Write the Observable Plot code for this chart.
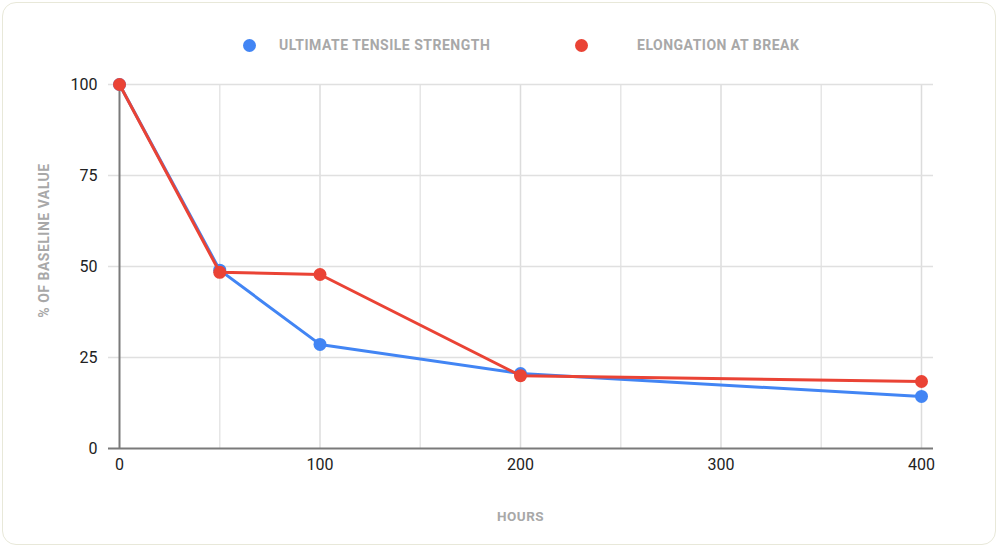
<!DOCTYPE html>
<html>
<head>
<meta charset="utf-8">
<script src="https://cdn.jsdelivr.net/npm/d3@7"></script>
<script src="https://cdn.jsdelivr.net/npm/@observablehq/plot@0.6"></script>
<style>
  html, body { margin: 0; padding: 0; background: #fff; }
  #wrap { position: relative; width: 999px; height: 548px; overflow: hidden; font-family: Roboto, sans-serif; }
  #frame { position: absolute; left: 2px; top: 2px; width: 992px; height: 541px; border: 1.5px solid #e8e8d9; border-radius: 14px; box-sizing: content-box; pointer-events: none; }
  #legend { position: absolute; left: 0; top: 0; width: 999px; height: 70px; }
  .item { position: absolute; top: 38px; line-height: 14px; font-weight: 700; font-size: 14px; letter-spacing: 0.5px; color: #a8a8a8; white-space: nowrap; }
  .dot { position: absolute; width: 13px; height: 13px; border-radius: 50%; top: 38.5px; }
  #chart { position: absolute; left: 0; top: 70px; }
</style>
</head>
<body>
<div id="wrap">
  <div id="legend"></div>
  <div id="chart"></div>
  <div id="frame"></div>
</div>
<script>
const hours = [0, 50, 100, 200, 400];
const tensile = [100, 49, 28.6, 20.6, 14.3];
const elongation = [100, 48.4, 47.8, 20.0, 18.4];
const seriesNames = ["ULTIMATE TENSILE STRENGTH", "ELONGATION AT BREAK"];
const seriesColors = ["#4285F4", "#EA4335"];
const xTicks = [0, 100, 200, 300, 400];
const xGridMinor = [50, 150, 250, 350];
const xGridMajor = [100, 200, 300, 400];
const yTicks = [0, 25, 50, 75, 100];
const yGrid = [25, 50, 75, 100];

const tData = hours.map((h, i) => ({hours: h, value: tensile[i]}));
const eData = hours.map((h, i) => ({hours: h, value: elongation[i]}));

// legend
const legend = document.getElementById("legend");
const legendPos = [{dot: 242.5, text: 279}, {dot: 574.5, text: 637}];
seriesNames.forEach((name, i) => {
  const d = document.createElement("div");
  d.className = "dot";
  d.style.left = legendPos[i].dot + "px";
  d.style.background = seriesColors[i];
  legend.appendChild(d);
  const t = document.createElement("div");
  t.className = "item";
  t.style.left = legendPos[i].text + "px";
  t.textContent = name;
  legend.appendChild(t);
});

const plot = Plot.plot({
  width: 999,
  height: 478,
  marginTop: 14,
  marginBottom: 100,
  marginLeft: 119,
  marginRight: 78,
  style: {fontFamily: "Roboto, sans-serif", background: "transparent"},
  x: {domain: [0, 400]},
  y: {domain: [0, 100]},
  marks: [
    Plot.ruleX(xGridMinor, {stroke: "#e6e6e6", strokeWidth: 1.5}),
    Plot.ruleX(xGridMajor, {stroke: "#dcdcdc", strokeWidth: 1.5}),
    Plot.ruleY(yGrid, {stroke: "#e0e0e0", strokeWidth: 1.5, insetLeft: -11, insetRight: -12}),
    Plot.ruleY([0], {stroke: "#7a7a7a", strokeWidth: 2, insetLeft: -11, insetRight: -12}),
    Plot.ruleX([0], {stroke: "#7a7a7a", strokeWidth: 2}),
    Plot.axisY({ticks: yTicks, tickSize: 0, tickPadding: 22, fontSize: 16, color: "#222", label: null}),
    Plot.axisX({ticks: xTicks, tickSize: 0, tickPadding: 10, fontSize: 16, color: "#222", label: null}),
    Plot.text(["HOURS"], {frameAnchor: "bottom", dy: 72, text: d => d, fill: "#a8a8a8", fontWeight: 700, fontSize: 13.5, fontFamily: "Roboto, sans-serif"}),
    Plot.text(["% OF BASELINE VALUE"], {frameAnchor: "left", textAnchor: "middle", dx: -75, dy: -26, rotate: -90, text: d => d, fill: "#a8a8a8", fontWeight: 700, fontSize: 14, fontFamily: "Roboto, sans-serif"}),
    Plot.line(tData, {x: "hours", y: "value", stroke: seriesColors[0], strokeWidth: 3}),
    Plot.dot(tData, {x: "hours", y: "value", fill: seriesColors[0], r: 6.5}),
    Plot.line(eData, {x: "hours", y: "value", stroke: seriesColors[1], strokeWidth: 3}),
    Plot.dot(eData, {x: "hours", y: "value", fill: seriesColors[1], r: 6.5})
  ]
});
plot.querySelectorAll("text").forEach(t => { if (t.getAttribute("fill") === "#a8a8a8" || (t.parentNode && t.parentNode.getAttribute && t.parentNode.getAttribute("fill") === "#a8a8a8")) t.style.letterSpacing = "0.5px"; });
document.getElementById("chart").appendChild(plot);
</script>
</body>
</html>
